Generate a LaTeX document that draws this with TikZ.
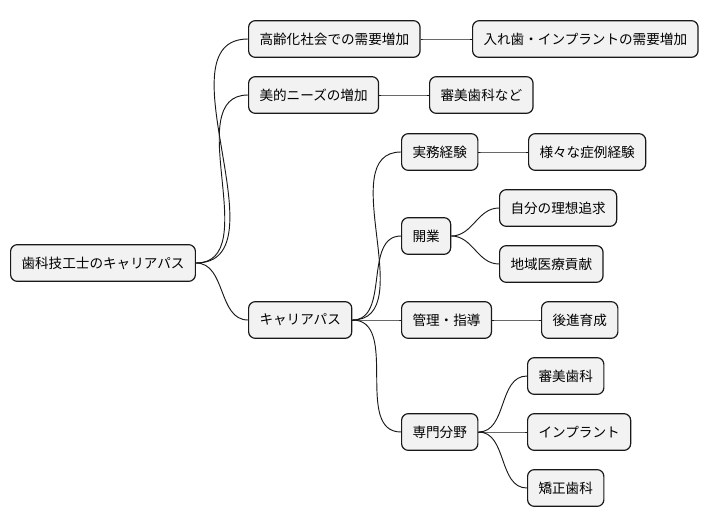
\documentclass[tikz,border=0pt]{standalone}
\usepackage{fontspec}
\newfontfamily\cjk{Noto Sans CJK JP}
\begin{document}
\begin{tikzpicture}[x=0.75pt,y=-0.75pt,
  box/.style={draw=black!90,fill=black!5,rounded corners=5pt,line width=0.9pt,anchor=west,
    minimum height=27.5pt,inner xsep=8.2pt,font=\cjk\fontsize{10.2pt}{11pt}\selectfont},
  ln/.style={line width=0.7pt,black!90}]
\useasboundingbox (0,0) rectangle (712,527);
\node[box] (r) at (10,263) {歯科技工士のキャリアパス};
\node[box] (a) at (248,39) {高齢化社会での需要増加};
\node[box] (a1) at (472,39) {入れ歯・インプラントの需要増加};
\node[box] (b) at (248,95) {美的ニーズの増加};
\node[box] (b1) at (429,95) {審美歯科など};
\node[box] (c) at (248,320) {キャリアパス};
\node[box] (c1) at (401,152) {実務経験};
\node[box] (c11) at (528,152) {様々な症例経験};
\node[box] (c2) at (401,236) {開業};
\node[box] (c21) at (499,208) {自分の理想追求};
\node[box] (c22) at (499,264) {地域医療貢献};
\node[box] (c3) at (401,320) {管理・指導};
\node[box] (c31) at (541,320) {後進育成};
\node[box] (c4) at (401,432) {専門分野};
\node[box] (c41) at (527,376) {審美歯科};
\node[box] (c42) at (527,432) {インプラント};
\node[box] (c43) at (527,488) {矯正歯科};
\foreach \p/\c in {r/a,r/b,r/c,a/a1,b/b1,c/c1,c/c2,c/c3,c/c4,c1/c11,c2/c21,c2/c22,c3/c31,c4/c41,c4/c42,c4/c43}
  \draw[ln] (\p.east) to[out=0,in=180] (\c.west);
\end{tikzpicture}
\end{document}
